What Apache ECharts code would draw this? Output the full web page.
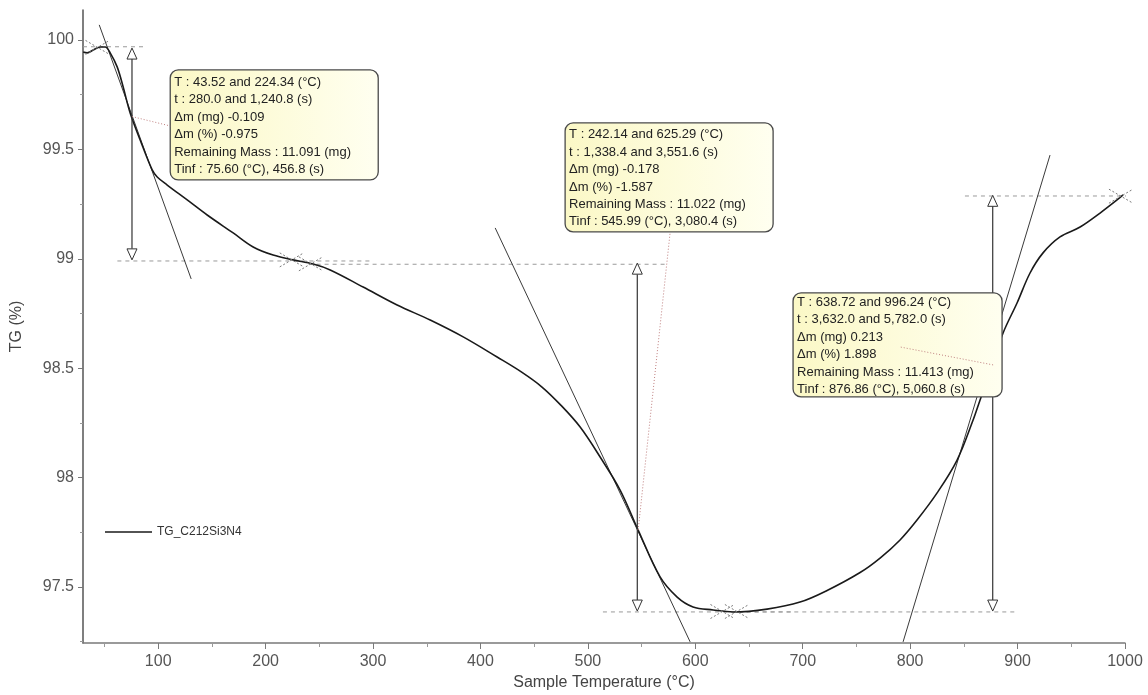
<!DOCTYPE html>
<html>
<head>
<meta charset="utf-8">
<title>TG_C212Si3N4</title>
<script src="https://cdn.jsdelivr.net/npm/echarts@6/dist/echarts.min.js"></script>
<style>
  html, body { margin: 0; padding: 0; background: #fff; }
  #chart { width: 1148px; height: 695px; }
</style>
</head>
<body>
<div id="chart"></div>
<script>
// TG curve (sample temperature in °C, mass in %)
const tempC = [30.2, 33.9, 39.5, 46.0, 50.7, 55.3, 61.8, 67.4, 73.9, 83.2, 94.4, 99.1, 108.4, 127.0, 145.6,
    169.8, 188.4, 207.0, 225.6, 244.3, 260.1, 290.8, 322.4, 353.2, 383.9, 415.5, 438.0, 457.0, 475.0, 492.8, 511.4,
    530.0, 546.8, 567.2, 583.1, 597.9, 616.6, 635.2, 666.8, 697.5, 722.7, 753.4, 772.0, 790.6, 806.4, 825.1,
    843.7, 858.6, 865.1, 876.9, 886.5, 899.5, 911.6, 923.7, 939.5, 958.2, 976.8, 992.6, 998.2];
const tgPct = [99.945, 99.941, 99.954, 99.968, 99.968, 99.941, 99.877, 99.785, 99.666, 99.543, 99.406, 99.374, 99.337, 99.269, 99.200,
    99.118, 99.054, 99.017, 98.995, 98.976, 98.949, 98.871, 98.789, 98.720, 98.643, 98.551, 98.483, 98.415, 98.330, 98.231, 98.094,
    97.943, 97.760, 97.546, 97.454, 97.409, 97.395, 97.386, 97.399, 97.431, 97.484, 97.566, 97.632, 97.715, 97.806, 97.930,
    98.080, 98.263, 98.355, 98.520, 98.661, 98.798, 98.935, 99.027, 99.100, 99.145, 99.209, 99.269, 99.292];

// axis ticks
const xTicks = [100, 200, 300, 400, 500, 600, 700, 800, 900, 1000];
const xMinor = [50, 150, 250, 350, 450, 550, 650, 750, 850, 950];
const yTicks = [97.5, 98, 98.5, 99, 99.5, 100];
const yMinor = [97.25, 97.75, 98.25, 98.75, 99.25, 99.75];

// step analysis: tangent lines (start / end points)
const tangentFrom = [[45.1, 100.069], [413.7, 99.141], [793.4, 97.249]];
const tangentTo = [[130.7, 98.908], [595.2, 97.249], [930.2, 99.474]];

// dashed base levels
const baseFrom = [30, 62, 240, 514, 640, 851];
const baseTo = [88, 300, 574, 690, 900, 1006];
const baseLevel = [99.969, 98.990, 98.975, 97.386, 97.386, 99.287];

// step arrows (Tinf, top level, bottom level)
const stepTemp = [75.60, 545.99, 876.86];
const stepTop = [99.963, 98.980, 99.290];
const stepBottom = [98.995, 97.390, 97.390];

// leader lines from Tinf to the note box
const leaderFrom = [[75.6, 99.650], [546.8, 97.760], [877.2, 98.515]];
const leaderTo = [[111.2, 99.607], [576.6, 99.122], [790.6, 98.597]];

// step limits (cross markers)
const markTemp = [43.52, 224.34, 242.14, 625.29, 638.72, 996.24];
const markTG = [99.966, 98.995, 98.977, 97.388, 97.388, 99.286];

// note texts
const notes = [
    ['T : 43.52 and 224.34 (°C)', 't : 280.0 and 1,240.8 (s)', 'Δm (mg) -0.109', 'Δm (%) -0.975',
        'Remaining Mass : 11.091 (mg)', 'Tinf : 75.60 (°C), 456.8 (s)'],
    ['T : 242.14 and 625.29 (°C)', 't : 1,338.4 and 3,551.6 (s)', 'Δm (mg) -0.178', 'Δm (%) -1.587',
        'Remaining Mass : 11.022 (mg)', 'Tinf : 545.99 (°C), 3,080.4 (s)'],
    ['T : 638.72 and 996.24 (°C)', 't : 3,632.0 and 5,782.0 (s)', 'Δm (mg) 0.213', 'Δm (%) 1.898',
        'Remaining Mass : 11.413 (mg)', 'Tinf : 876.86 (°C), 5,060.8 (s)']
];
// where each note box sits (top-left corner in data units) and its pixel size
const noteAt = [[111.2, 99.863], [478.8, 99.621], [691.0, 98.844]];
const noteSize = [[208, 110], [208, 109], [209, 104]];

const FONT = '"Liberation Sans", Arial, sans-serif';
const chart = echarts.init(document.getElementById('chart'));

const series = [];

series.push({
    name: 'TG_C212Si3N4',
    type: 'line',
    data: tempC.map((t, i) => [t, tgPct[i]]),
    symbol: 'none',
    smooth: 0.35,
    lineStyle: { color: '#1a1a1a', width: 1.6 },
    itemStyle: { color: '#1a1a1a' },
    z: 3
});

tangentFrom.forEach((p, i) => {
    series.push({
        type: 'line', data: [p, tangentTo[i]], symbol: 'none', silent: true,
        lineStyle: { color: '#3a3a3a', width: 1 }, z: 2
    });
});

baseLevel.forEach((lvl, i) => {
    series.push({
        type: 'line', data: [[baseFrom[i], lvl], [baseTo[i], lvl]], symbol: 'none', silent: true, clip: false,
        lineStyle: { color: '#9a9a9a', width: 1, type: [4, 4] }, z: 1
    });
});

leaderFrom.forEach((p, i) => {
    series.push({
        type: 'line', data: [p, leaderTo[i]], symbol: 'none', silent: true,
        lineStyle: { color: '#c08080', width: 1, type: [1, 2] }, z: 6
    });
});

// double arrows
series.push({
    type: 'custom', silent: true, z: 4,
    data: stepTemp.map((t, i) => [t, stepTop[i], stepBottom[i]]),
    encode: { x: 0, y: [1, 2] },
    renderItem: (params, api) => {
        const top = api.coord([api.value(0), api.value(1)]);
        const bot = api.coord([api.value(0), api.value(2)]);
        const w = 5, h = 11;
        const head = { fill: '#fff', stroke: '#333', lineWidth: 1 };
        return {
            type: 'group',
            children: [
                { type: 'line', shape: { x1: top[0], y1: top[1] + h, x2: bot[0], y2: bot[1] - h }, style: { stroke: '#333', lineWidth: 1.2 } },
                { type: 'polygon', shape: { points: [[top[0], top[1]], [top[0] - w, top[1] + h], [top[0] + w, top[1] + h]] }, style: head },
                { type: 'polygon', shape: { points: [[bot[0], bot[1]], [bot[0] - w, bot[1] - h], [bot[0] + w, bot[1] - h]] }, style: head }
            ]
        };
    }
});

// cross markers at step limits
series.push({
    type: 'custom', silent: true, z: 4,
    data: markTemp.map((t, i) => [t, markTG[i]]),
    renderItem: (params, api) => {
        const c = api.coord([api.value(0), api.value(1)]);
        const st = { stroke: '#7a7a7a', lineWidth: 1, lineDash: [2, 2] };
        return {
            type: 'group',
            children: [
                { type: 'line', shape: { x1: c[0] - 12, y1: c[1] - 7, x2: c[0] + 12, y2: c[1] + 7 }, style: st },
                { type: 'line', shape: { x1: c[0] - 12, y1: c[1] + 7, x2: c[0] + 12, y2: c[1] - 7 }, style: st }
            ]
        };
    }
});

// note boxes
series.push({
    type: 'custom', silent: true, z: 5, clip: false,
    data: noteAt,
    renderItem: (params, api) => {
        const i = params.dataIndex;
        const p = api.coord([api.value(0), api.value(1)]);
        const [w, h] = noteSize[i];
        return {
            type: 'group',
            children: [
                {
                    type: 'rect',
                    shape: { x: p[0], y: p[1], width: w, height: h, r: 8 },
                    style: {
                        fill: { type: 'linear', x: 0, y: 0, x2: 1, y2: 0,
                            colorStops: [{ offset: 0, color: '#fbf8c6' }, { offset: 1, color: '#fffff0' }] },
                        stroke: '#4a4a4a', lineWidth: 1.3
                    }
                },
                {
                    type: 'text',
                    x: p[0] + 4, y: p[1] + (h - 6 * 17.4) / 2 + 1,
                    style: {
                        text: notes[i].join('\n'),
                        fontFamily: FONT, fontSize: 13, lineHeight: 17.4,
                        fill: '#222', align: 'left', verticalAlign: 'top'
                    }
                }
            ]
        };
    }
});

chart.setOption({
    animation: false,
    backgroundColor: '#fff',
    grid: { left: 83, right: 23, top: 10, bottom: 52, containLabel: false, outerBoundsMode: 'none' },
    legend: {
        data: ['TG_C212Si3N4'],
        left: 100, top: 521,
        icon: 'rect', itemWidth: 47, itemHeight: 1.5, itemGap: 10,
        textStyle: { fontFamily: FONT, fontSize: 12, color: '#333' }
    },
    xAxis: [{
        type: 'value', min: 30, max: 1000,
        name: 'Sample Temperature (°C)', nameLocation: 'middle', nameGap: 32,
        nameTextStyle: { fontFamily: FONT, fontSize: 16, color: '#444' },
        axisLine: { show: true, onZero: false, lineStyle: { color: '#7a7a7a', width: 1.5 } },
        axisTick: { show: true, length: 6, customValues: xTicks, lineStyle: { color: '#7a7a7a' } },
        axisLabel: { customValues: xTicks, formatter: v => String(v), fontFamily: FONT, fontSize: 16, color: '#555', margin: 11 },
        splitLine: { show: false }
    }, {
        type: 'value', min: 30, max: 1000, position: 'bottom',
        axisLine: { show: false, onZero: false },
        axisTick: { show: true, length: 4, customValues: xMinor, lineStyle: { color: '#999' } },
        axisLabel: { show: false },
        splitLine: { show: false }
    }],
    yAxis: [{
        type: 'value', min: 97.244, max: 100.137,
        name: 'TG (%)', nameLocation: 'middle', nameGap: 58, nameRotate: 90,
        nameTextStyle: { fontFamily: FONT, fontSize: 16, color: '#444' },
        axisLine: { show: true, onZero: false, lineStyle: { color: '#555', width: 1.5 } },
        axisTick: { show: true, length: 5, customValues: yTicks, lineStyle: { color: '#777' } },
        axisLabel: { customValues: yTicks, formatter: v => String(v), fontFamily: FONT, fontSize: 16, color: '#555', margin: 9 },
        splitLine: { show: false }
    }, {
        type: 'value', min: 97.244, max: 100.137, position: 'left',
        axisLine: { show: false, onZero: false },
        axisTick: { show: true, length: 3, customValues: yMinor, lineStyle: { color: '#999' } },
        axisLabel: { show: false },
        splitLine: { show: false }
    }],
    series: series
});

window.onresize = () => chart.resize();
</script>
</body>
</html>
